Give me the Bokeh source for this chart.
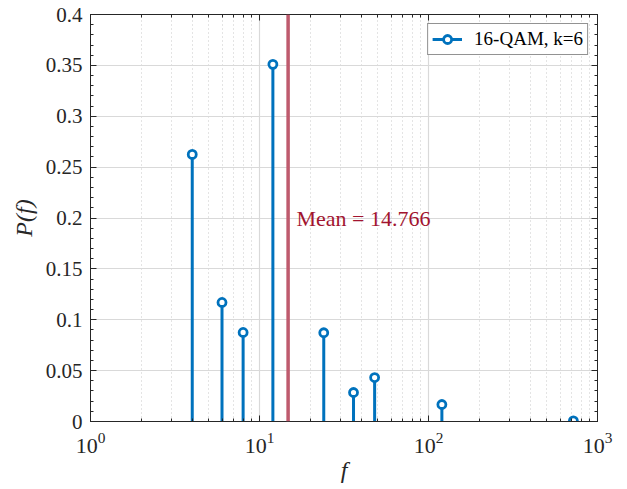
from bokeh.plotting import figure
from bokeh.models import (FixedTicker, LinearAxis, Span, Label,
                          CustomJSTickFormatter, Legend, LegendItem)
from bokeh.embed import file_html
from bokeh.resources import INLINE

# data
f_vals = [4, 6, 8, 12, 24, 36, 48, 120, 720]
p_vals = [0.2625, 0.117, 0.0875, 0.351, 0.0872, 0.0285, 0.0432, 0.0167, 0.0006]
mean_value = 14.766
legend_text = "16-QAM, k=6"
mean_text = "Mean = 14.766"
y_ticks = [0, 0.05, 0.1, 0.15, 0.2, 0.25, 0.3, 0.35, 0.4]
x_ticks = [1, 10, 100, 1000]

FONT = "Liberation Serif"
BLUE = "#0072BD"
AX = "#262626"

p = figure(frame_width=507, frame_height=407, x_axis_type="log", x_range=(1, 1000), y_range=(0, 0.4),
           output_backend="svg", toolbar_location=None,
           min_border_left=90, min_border_right=30, min_border_top=14, min_border_bottom=68)
p.outline_line_color = AX
p.background_fill_color = "white"
p.border_fill_color = "white"

x_minor = [k * 10 ** d for d in range(3) for k in range(2, 10)]
y_minor = [i / 100 for i in range(0, 41)]
xt = FixedTicker(ticks=x_ticks, minor_ticks=x_minor)
yt = FixedTicker(ticks=y_ticks, minor_ticks=y_minor)
yfmt = CustomJSTickFormatter(code="return String(Math.round(tick*100)/100)")
blank = CustomJSTickFormatter(code="return ' '")

def style(ax, labels=True):
    ax.axis_line_color = AX
    ax.major_tick_line_color = AX
    ax.minor_tick_line_color = AX
    ax.major_tick_in = 6
    ax.major_tick_out = 0
    ax.minor_tick_in = 3
    ax.minor_tick_out = 0
    if labels:
        ax.major_label_text_font = FONT
        ax.major_label_text_font_size = "21px"
        ax.major_label_text_color = AX
        ax.major_label_standoff = 8
        ax.axis_label_text_font = FONT
        ax.axis_label_text_font_size = "24px"
        ax.axis_label_text_font_style = "italic"
        ax.axis_label_text_color = AX
    else:
        ax.formatter = blank
        ax.major_label_text_font_size = "2px"
        ax.major_label_text_alpha = 0
        ax.major_label_standoff = 0
        ax.axis_label_standoff = 0

p.xaxis.ticker = xt
p.yaxis.ticker = yt
p.yaxis.formatter = yfmt
style(p.xaxis[0])
style(p.yaxis[0])
p.xaxis.major_label_text_font_size = "22px"
p.xaxis.major_label_standoff = 11
p.xaxis.axis_label = "f"
p.yaxis.axis_label = "P(f)"
p.xaxis.axis_label_standoff = 1
p.yaxis.axis_label_standoff = 6

top = LinearAxis(ticker=xt)
right = LinearAxis(ticker=yt)
style(top, False)
style(right, False)
p.add_layout(top, "above")
p.add_layout(right, "right")

p.xgrid.ticker = xt
p.ygrid.ticker = yt
p.xgrid.grid_line_color = "#d9d9d9"
p.ygrid.grid_line_color = "#d9d9d9"
p.xgrid.grid_line_width = 1.2
p.ygrid.grid_line_width = 1.2
p.xgrid.minor_grid_line_color = "#c8c8c8"
p.xgrid.minor_grid_line_dash = "1 3"
p.xgrid.minor_grid_line_width = 1

mean_line = Span(location=mean_value, dimension="height", line_color="#BE5A6D", line_width=3.5)
p.add_layout(mean_line)
p.add_layout(Label(x=mean_value * 1.12, y=0.2, text=mean_text, text_font=FONT,
                   text_font_size="22px", text_color="#A2142F", text_baseline="middle"))

seg = p.segment(x0=f_vals, y0=[0] * len(f_vals), x1=f_vals, y1=p_vals,
                line_color=BLUE, line_width=3)
mk = p.scatter(x=f_vals, y=p_vals, size=8, line_width=2.8, line_color=BLUE, fill_color="white")

leg = Legend(items=[LegendItem(label=legend_text, renderers=[seg, mk])], location="top_right")
leg.label_text_font = FONT
leg.label_text_font_size = "19px"
leg.label_text_color = "black"
leg.border_line_color = AX
leg.border_line_width = 1
leg.glyph_width = 30
leg.padding = 4
leg.margin = 9
leg.label_standoff = 12
p.add_layout(leg)

open("out.html", "w").write(file_html(p, INLINE))
